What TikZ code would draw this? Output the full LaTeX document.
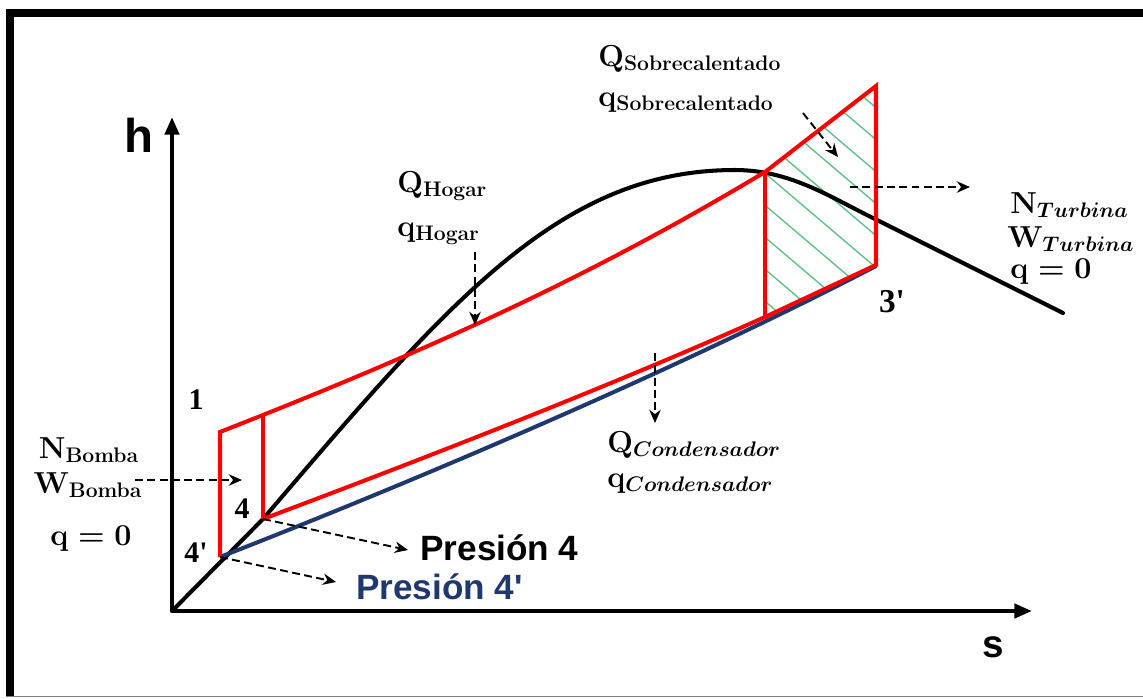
\documentclass[tikz,border=0pt]{standalone}
\usepackage{amsmath, amssymb}
\usepackage{fontspec}
\newfontfamily\arialfont{Liberation Sans}
\newfontfamily\timesfont{Liberation Serif}
\usetikzlibrary{arrows.meta}

\definecolor{azul}{RGB}{32,56,112}
\definecolor{verde}{RGB}{95,195,135}

\tikzset{
  ciclo/.style={red, line width=2.3pt, line join=miter},
  curva/.style={black, line width=2.3pt, line cap=round},
  flecha/.style={line width=1.1pt, dash pattern=on 4.5pt off 2.5pt, -{Stealth[length=7.5pt,width=6.5pt]}},
  eje/.style={line width=2.3pt, -{Triangle[length=10pt,width=8pt]}},
  etq/.style={font=\boldmath\bfseries\fontsize{18}{21}\selectfont, inner sep=0pt, anchor=base west},
  num/.style={font=\timesfont\bfseries\fontsize{17}{19}\selectfont, inner sep=0pt, anchor=base},
  pres/.style={font=\arialfont\bfseries\fontsize{20}{24}\selectfont, inner sep=0pt, anchor=base west},
}

\begin{document}
\begin{tikzpicture}[x={(0.02cm,0)}, y={(0,-0.02cm)}]
	\useasboundingbox (0,0) rectangle (1143,698);
	
	% marco
	\draw[line width=4.5pt] (10,697) -- (10,13) -- (1143,13);
	\draw[gray, line width=0.6pt] (6,696.5) -- (1143,696.5);
	
	% puntos del ciclo
	\coordinate (O) at (172,611);
	\coordinate (p4p) at (220,557);
	\coordinate (p4) at (263,519);
	\coordinate (p1) at (220,432);
	\coordinate (p1b) at (263,415);
	\coordinate (pa) at (765,172);
	\coordinate (pb) at (876,86);
	\coordinate (p3p) at (876,265);
	\coordinate (pc) at (765,317);
	
	% ejes
	\draw[eje] (O) -- (172,117);
	\draw[eje] (O) -- (1032,611);
	\node[font=\arialfont\bfseries\fontsize{27}{30}\selectfont, inner sep=0pt, anchor=base west] (h) at (124,152) {h};
	\node[font=\arialfont\bfseries\fontsize{22}{26}\selectfont, inner sep=0pt, anchor=base west] (s) at (982,657) {s};
	
	% zona rayada
	\begin{scope}
		\clip (pa) -- (pb) -- (p3p) -- (pc) -- cycle;
		\foreach \k in {0,...,15} \draw[verde, line width=0.8pt] (740,-40+\k*32) -- ++(200,170);
	\end{scope}
	
	% campana
	\draw[curva] (O) -- (p4) .. controls (450,300) and (560,170) .. (735,170)
		.. controls (790,170) and (830,197) .. (873,218) -- (1063,313);
	
	% presion 4'
	\draw[azul, line width=2.3pt] (p4p) .. controls (420,479) and (676,370) .. (876,266);
	
	% ciclo
	\draw[ciclo] (p4p) -- (p1) -- (p1b) .. controls (443,343) and (595,274) .. (pa) -- (pb) -- (p3p) -- (pc)
		.. controls (615,384.5) and (413,462.75) .. (p4);
	\draw[ciclo] (p1b) -- (p4);
	\draw[ciclo] (pa) -- (pc);
	
	% numeros
	\node[num] (n1) at (196,409) {1};
	\node[num] (n4) at (242,518) {4};
	\node[num] (n4p) at (196,562) {4\textquotesingle};
	\node[num, font=\timesfont\bfseries\fontsize{19}{21}\selectfont] (n3p) at (892,312) {3\textquotesingle};
	
	% etiquetas
	\node[etq] (qs1) at (598,66) {$\mathbf{Q}_{\mathbf{Sobrecalentado}}$};
	\node[etq] (qs2) at (598,106) {$\mathbf{q}_{\mathbf{Sobrecalentado}}$};
	\node[etq] (qh1) at (397,192) {$\mathbf{Q}_{\mathbf{Hogar}}$};
	\node[etq] (qh2) at (397,236) {$\mathbf{q}_{\mathbf{Hogar}}$};
	\node[etq] (nt) at (1010,213) {$\mathbf{N}_{Turbina}$};
	\node[etq] (wt) at (1007,247) {$\mathbf{W}_{Turbina}$};
	\node[etq] (qt) at (1010,278) {$\mathbf{q}=\mathbf{0}$};
	\node[etq] (qc1) at (607,452) {$\mathbf{Q}_{Condensador}$};
	\node[etq] (qc2) at (607,487) {$\mathbf{q}_{Condensador}$};
	\node[etq, anchor=base] (nb) at (89,458) {$\mathbf{N}_{\mathbf{Bomba}}$};
	\node[etq, anchor=base] (wb) at (88,493) {$\mathbf{W}_{\mathbf{Bomba}}$};
	\node[etq, anchor=base] (qb) at (91,545) {$\mathbf{q}=\mathbf{0}$};
	\node[pres] (pr4) at (420,560) {Presión 4};
	\node[pres, text=azul] (pr4p) at (356,599) {Presión 4'};
	
	% flechas
	\coordinate (tS) at (838,157);
	\coordinate (tT) at (970,187);
	\coordinate (tH) at (475,325);
	\coordinate (tC) at (655,423);
	\coordinate (tB) at (242,480);
	\draw[flecha] (803,113) -- (tS);
	\draw[flecha] (850,187) -- (tT);
	\draw[flecha] (475,252) -- (tH);
	\draw[flecha] (655,353) -- (tC);
	\draw[flecha] (135,480) -- (tB);
	\draw[flecha] (p4) -- (408,550);
	\draw[flecha] (p4p) -- (336,582);
\end{tikzpicture}
\end{document}
